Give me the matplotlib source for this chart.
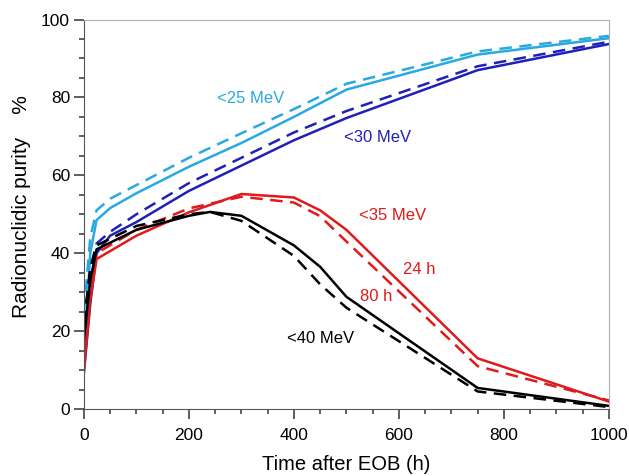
import matplotlib
matplotlib.use("Agg")
import matplotlib.pyplot as plt
from matplotlib.ticker import MultipleLocator

plt.rcParams['font.family'] = ['Liberation Sans', 'DejaVu Sans']

# time after EOB (h)
t = [0, 12, 24, 50, 100, 200, 300, 400, 500, 750, 1000]

# <25 MeV
lb_24 = [13, 40, 48.5, 51.6, 55.4, 62.2, 68.3, 75, 82, 91, 95.2]
lb_80 = [25, 44, 51, 54, 57.5, 64.5, 70.8, 77, 83.5, 91.8, 95.8]
# <30 MeV
db_24 = [9.5, 27, 40, 44.5, 48, 56, 62.5, 69, 74.7, 87, 93.7]
db_80 = [22, 36, 42.5, 45.5, 50, 58, 64.5, 71, 76.5, 88, 94.3]
# <35 MeV
t_r = [0, 12, 24, 100, 200, 300, 400, 450, 500, 750, 1000]
rd_24 = [10, 28, 38.5, 44.5, 50.5, 55.2, 54.3, 51, 46, 13, 1.9]
rd_80 = [16, 32, 40, 46, 51.5, 54.5, 53, 49.5, 43, 11, 2.2]
# <40 MeV
t_k = [0, 12, 24, 100, 200, 240, 300, 400, 450, 500, 750, 1000]
bk_24 = [18, 33, 41, 46, 49.6, 50.6, 49.6, 42, 36.5, 28.8, 5.4, 0.8]
bk_80 = [22, 36, 42, 47, 50, 50.6, 48.3, 39.3, 32, 26, 4.5, 0.5]

c_lb = '#29a9e1'
c_db = '#2020b8'
c_rd = '#e01a1a'
c_bk = '#000000'

fig = plt.figure(figsize=(6.29, 4.76), dpi=100)
ax = fig.add_axes([0.1335, 0.1408, 0.8345, 0.8182])

dash = (0, (5, 3))
for tt, y24, y80, c in [(t, lb_24, lb_80, c_lb), (t, db_24, db_80, c_db),
                        (t_r, rd_24, rd_80, c_rd), (t_k, bk_24, bk_80, c_bk)]:
    ax.plot(tt, y24, color=c, lw=1.8, solid_joinstyle='round')
    ax.plot(tt, y80, color=c, lw=1.8, linestyle=dash)

ax.set_xlim(0, 1000)
ax.set_ylim(0, 100)
ax.xaxis.set_major_locator(MultipleLocator(200))
ax.xaxis.set_minor_locator(MultipleLocator(50))
ax.yaxis.set_major_locator(MultipleLocator(20))
ax.yaxis.set_minor_locator(MultipleLocator(5))
ax.tick_params(which='major', direction='out', length=7, width=1.1, color='#333333',
               labelsize=12.5)
ax.tick_params(axis='x', which='major', pad=7)
ax.tick_params(axis='y', which='major', pad=3)
ax.tick_params(which='minor', direction='out', length=3.8, width=1.1, color='#333333')
for s in ['left', 'bottom']:
    ax.spines[s].set_color('#555555')
for s in ['top', 'right']:
    ax.spines[s].set_color('#b0b0b0')

ax.set_xlabel('Time after EOB (h)', fontsize=14.5, labelpad=8)
ax.set_ylabel('Radionuclidic purity    %', fontsize=15)
ax.yaxis.set_label_coords(-0.10, 0.52)

ax.text(317, 79.6, '<25 MeV', color=c_lb, fontsize=12, ha='center', va='center')
ax.text(559, 69.8, '<30 MeV', color=c_db, fontsize=12, ha='center', va='center')
ax.text(587, 49.8, '<35 MeV', color=c_rd, fontsize=12, ha='center', va='center')
ax.text(638, 35.7, '24 h', color=c_rd, fontsize=12, ha='center', va='center')
ax.text(557, 28.8, '80 h', color=c_rd, fontsize=12, ha='center', va='center')
ax.text(451, 18.2, '<40 MeV', color=c_bk, fontsize=12, ha='center', va='center')

fig.savefig('out.png', dpi=100)
